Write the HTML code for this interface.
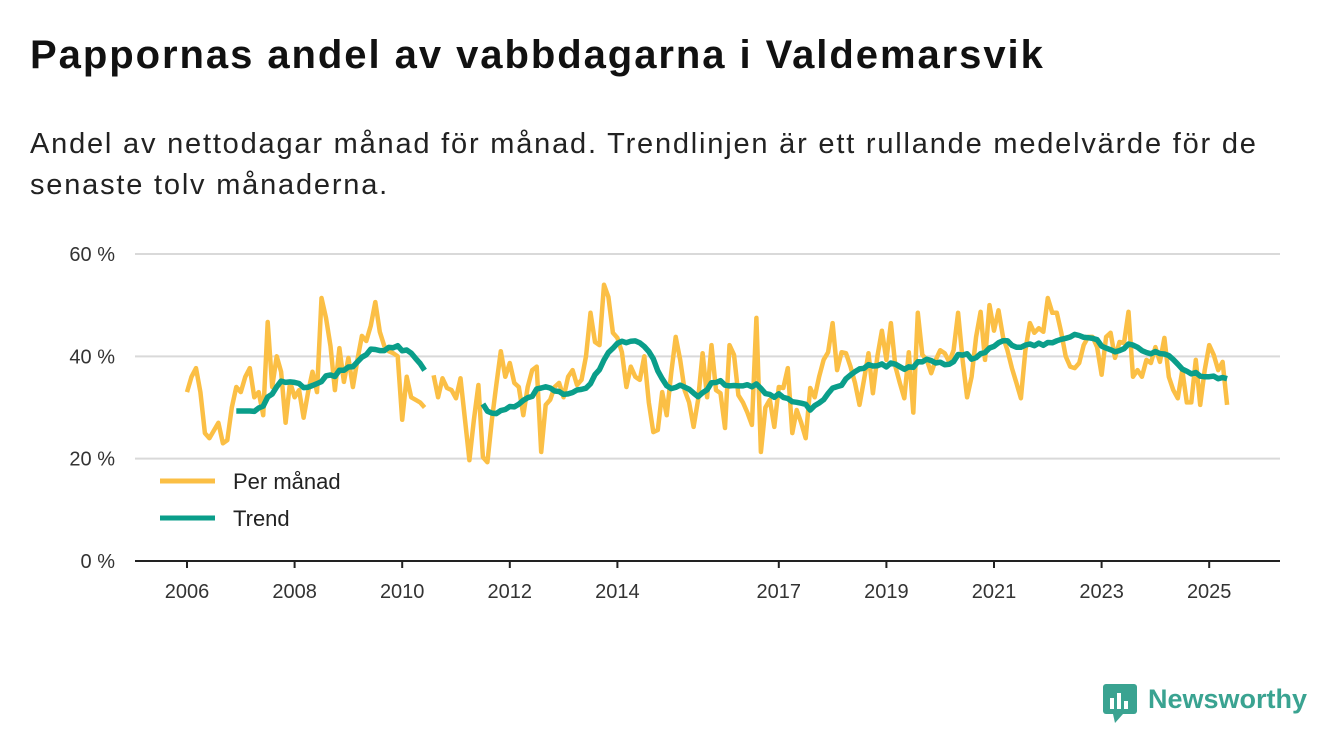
<!DOCTYPE html>
<html><head><meta charset="utf-8"><style>
body{margin:0;background:#fff;width:1340px;height:753px;overflow:hidden;font-family:"Liberation Sans","DejaVu Sans",sans-serif;}
h1{position:absolute;left:30px;top:33px;margin:0;font-size:40px;letter-spacing:1.95px;font-weight:bold;color:#111;white-space:nowrap;}
.sub{position:absolute;left:30px;top:124px;margin:0;font-size:29px;letter-spacing:1.8px;line-height:41px;color:#222;width:1300px;white-space:nowrap;}
svg{position:absolute;left:0;top:0;}
</style></head><body>
<h1>Pappornas andel av vabbdagarna i Valdemarsvik</h1>
<p class="sub">Andel av nettodagar månad för månad. Trendlinjen är ett rullande medelvärde för de<br>senaste tolv månaderna.</p>
<svg id="chart" width="1340" height="753"></svg>
<div style="position:absolute;left:1103px;top:684px;">
<svg width="36" height="40" style="position:static"><rect x="0" y="0" width="34" height="30" rx="3" fill="#3aa391"/><polygon points="10,30 20,30 12,39" fill="#3aa391"/><rect x="7" y="14" width="4" height="11" fill="#fff"/><rect x="14" y="9" width="4" height="16" fill="#fff"/><rect x="21" y="17" width="4" height="8" fill="#fff"/></svg>
<span style="position:absolute;left:45px;top:0px;font-size:27px;font-weight:bold;color:#3aa391;">Newsworthy</span>
</div>
<script>
const startYear = 2006;
const yTicks = [0, 20, 40, 60];
const xTickYears = [2006, 2008, 2010, 2012, 2014, 2017, 2019, 2021, 2023, 2025];
const monthly = [
33,36,37.7,33,25,24,25.5,27,23,23.6,30,34,
33,36,37.7,32,33,28.5,46.7,34,40,37,27,35,
32,33.4,28,33,37,33,51.4,47.5,42,33.4,41.6,35,
39.7,34,39.3,44,43,46,50.6,44.8,42,41,40.6,40,
27.6,36,32,31.5,31,30,null,
36.3,32,35.7,33.8,33.4,31.8,35.7,27.6,19.7,27.6,
34.4,20.3,19.3,27.6,34.4,41,36,38.7,34.8,34,
28.5,34,37.3,38,21.3,30.5,31.5,34,34.8,32,
36,37.3,34.4,35.4,40,48.5,42.8,42.2,54,51.6,
44.6,43.6,40.8,34,38,36,35.4,40,31,25.2,
25.6,33,28.5,36.7,43.8,39.3,33.4,31,26.2,31.5,40.6,
32,42.2,33.4,32.8,26,42.2,40.3,32.4,31,
29,26.6,47.5,21.3,30,31.5,26.2,34,33.8,
37.7,25,29.5,27,24,33.8,32,36,39.3,40.8,
46.5,37.3,40.8,40.6,38,34.8,30.5,35.4,40.6,32.8,
40,45,39.3,46.5,38,34.8,31.8,40.8,29,48.5,
40.3,39.3,36.7,39.3,41.2,40.6,38.9,41.2,48.5,
39.3,32,36,43.8,48.7,39.3,50,45,49,43.8,
41.2,37.7,34.8,31.8,41.2,46.5,44.6,45.5,44.8,51.4,
48.5,48.5,44.6,40,38,37.7,38.7,42.2,43.8,43.8,
41.8,36.4,43.8,44.6,39.7,42.8,42.6,48.7,36,37.3,
36,39.3,38.7,41.8,38.9,43.6,36,33.4,31.8,37.3,
31,31,39.3,30.5,37.3,42.2,40.3,37.3,38.9,30.5
];
const trendWindow = 12;
const legendLabels = ["Per månad", "Trend"];

const NS = "http://www.w3.org/2000/svg";
const svg = document.getElementById('chart');
const X0 = 187, PXY = 53.8;
const xOfMonth = i => X0 + PXY * i / 12;
const xOfYear = y => X0 + PXY * (y - startYear);
const yOf = v => 561 - v * 5.117;
function mk(tag, attrs){const e=document.createElementNS(NS,tag);for(const k in attrs)e.setAttribute(k,attrs[k]);svg.appendChild(e);return e;}

yTicks.forEach(t=>{
  if(t>0){const g=mk('line',{x1:135,x2:1280,y1:yOf(t),y2:yOf(t),stroke:'#d9d9d9','stroke-width':2});
  
  }
  const tx=mk('text',{x:115,y:yOf(t)+7,'text-anchor':'end','font-size':20,fill:'#333'});
  tx.textContent=t+' %';
  
  
});
const ax=mk('line',{x1:135,x2:1280,y1:561,y2:561,stroke:'#222','stroke-width':2});


xTickYears.forEach(y=>{
  const tk=mk('line',{x1:xOfYear(y),x2:xOfYear(y),y1:561,y2:568,stroke:'#222','stroke-width':2});
  
  
  const tx=mk('text',{x:xOfYear(y),y:598,'text-anchor':'middle','font-size':20,fill:'#333'});
  tx.textContent=y;
  
  
});

function pathFrom(vals){
  let d='',pen=false;
  vals.forEach((v,i)=>{
    if(v==null){pen=false;return;}
    d+=(pen?'L':'M')+xOfMonth(i).toFixed(1)+','+yOf(v).toFixed(1);pen=true;
  });
  return d;
}
const trend = monthly.map((v,i)=>{
  if(i<trendWindow-1)return null;
  const w=monthly.slice(i-trendWindow+1,i+1);
  if(w.some(x=>x==null))return null;
  return w.reduce((a,b)=>a+b,0)/trendWindow;
});
const mLine=mk('path',{d:pathFrom(monthly),fill:'none',stroke:'#fbbf45','stroke-width':4.5,'stroke-linejoin':'round'});


const tLine=mk('path',{d:pathFrom(trend),fill:'none',stroke:'#0a9e8a','stroke-width':5.5,'stroke-linejoin':'round'});



[['#fbbf45',481],['#0a9e8a',518]].forEach((c,k)=>{
  const l=mk('line',{x1:160,x2:215,y1:c[1],y2:c[1],stroke:c[0],'stroke-width':5});
  
  
  const t=mk('text',{x:233,y:c[1]+8,'font-size':22,fill:'#222'});
  t.textContent=legendLabels[k];
  
  
});
</script>
</body></html>
